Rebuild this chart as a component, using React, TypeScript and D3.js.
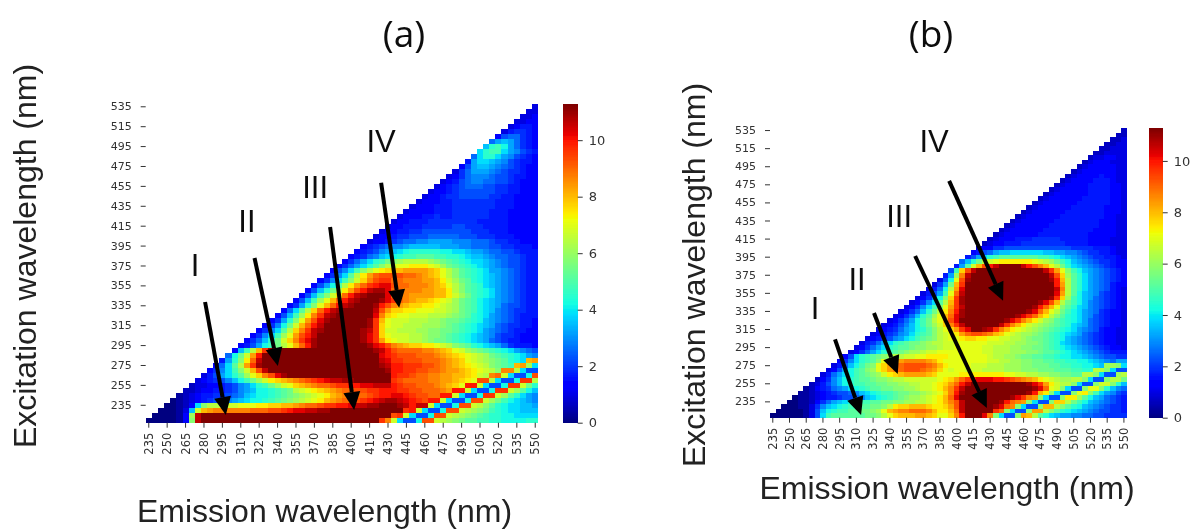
import React, { useEffect, useRef } from "react";
import * as d3 from "d3";

// Each row is one excitation wavelength, top row (535 nm) first. Rows are right
// aligned on 550 nm emission, one character per cell, base 36 level out of 35.
const valuesA = [
  "3", "33", "334", "3344", "34554", "356654", "4788654", "8aba8654",
  "b efda8654", "ce ffca9765", "8ce eca97654", "5acc ba976554", "47abb a9876544",
  "368aaa 98766544", "3468999 87765544", "34578998 87765444",
  "3 45678887 76655444", "34 45677777 76655444", "344 56677777 66554444",
  "3444 55666666 65554444", "34445 55666666 65554444", "344445 55666666 55544444",
  "3444556 55666666 55544444", "34455566 66666655 55544444",
  "3 44555666 66776665 55544444", "34 45566777 77777666 55544444",
  "344 56677788 88877766 65554444", "3445 678899aa aa999888 76655444",
  "45678 99abbbbb aaa99888 77665554", "45679a bcdeeeee ddccbaa9 88776555",
  "45689bc deffgggf feedcbba 98877655", "468acefh ijkkkkji hgfedccb a9877655",
  "4 68acegik lmmnnnml jhgfedcb a9877655", "47 9cfikmno ppqqqqpo mkigfedc aa987655",
  "469 cgknqstt ttssrqpo mkigfedc ba987655", "469c filortuu ssrrrqqp nljhgedc ba987655",
  "47adg knqsuvww tssrrrqp omkigfec ba987655", "47behk nqtvxyyw ssrrrqqp pnkigfed ca987655",
  "47bfilo svxyzzzw srrqqqqp pnljhfed ca987655", "47bfjmps vxyzzzyw usrqppon mljhgfdc ba987655",
  "4 6aeimpsv xyzzzyvt rqpoonnm lkjhgfdc ba877655", "48 cgkosvxy zzzzzxtq oonnmmml lkjhgfdc b9876655",
  "47b fjnruxyz zzzzzwro nmmlllkk kjihgedc a9876555", "46ae imqtwyzz zzzzyupm lllkkkjj ihhgfedb a9876554",
  "469dh lpsvxzzz zzzzyuom llkkkjjj ihgfedcb a8766554", "469cgk oruxyzzz zzzyxuol lkkkjjii hhgfedca 98765544",
  "469cfjm qtvxzzzz zzzywuom lllkkjii hgfedcba 97665444", "468behlo ruwyzzzz zzzywuqn mllkkjih hgfedcba 87655444",
  "4 57adfhkm psvyzzzz zzzzywvt rqpoonnm lkihgedc ba865554", "4b fkpuyzzz zzzzzzzz zzzzzyxv tssssrrq pomljihg fedca987",
  "8dh lqvzzzzz zzzzzzzz zzzzzzwv utttsssr qponmlkj hgfedca9", "5aei nsxzzzzz zzzzzzzz zzzzzzxw uutttsss rqpomlkj ihgedcpq",
  "48cgk quyzzzzz zzzzzzzz zzzzzzyx vvuuutts rqponmlk ihgfpqjc", "469cfi lptxzzzz zzzzzzzz zzzzzzzy vvuuttss rqqponml kirrkc77",
  "357aceg jmortwyz zzzzzzzz zzzzzzzz vuutssrr qqpponlk rslc77dt", "3456 79bd fhjlnopq rstuvwxx yyzzzzzz utssssrr qqponmtt kc77duuk",
  "2 33445679 acefhjlm opqrsstu uvvwwxxx vuttsssr qpomvvlc 77duulhe", "22 34455679 abddefgh klmnopqr ssttuuvv vuuttsss rqvvlc77 duuljgdb",
  "123 45566789 bcddefgh ijklmnpq rrsstuvv wwvuttss vvlc77du uljgeca9", "0123 456789ab cddefghi jklmnpqr sstuvwxy yxwvutvv lc77dttl jhfdcba9",
  "00124 cikklllm mmnnoopp qrsstuuv vwxxyyzz zyxvxxlc 77dttlki gedccbba", "00013b lpqrrrrr rsssttuv wwxxyyzz zzzzzzzz zzuvlc77 dttlkjih fedccbbb",
  "000014j xzzzzzzz zzzzzzzz zzzzzzzz zzzzzzzz tulc77dt tlkjihgf eeddcccc", "00000 14ixzzzzzzz zzzzzzzz zzzzzzzz zzzzzzur lc77dttl kjihggff eedddd ee",
];

const valuesB = [
  "2", "22", "223", "2233", "22333", "223333", "2334433", "23444333",
  "2 34444433", "23 44444433", "234 44454433", "2344 44555433", "23444 45555443",
  "234444 45555443", "2344444 45555443", "23444444 55555443",
  "2 34444445 55555443", "23 44444455 55554443", "234 44444555 55554443",
  "2344 44445555 55554433", "23444 44455555 55544433", "234444 44555555 55544433",
  "2344444 45555555 55444433", "23444444 55555555 54444433",
  "2 34445556 66665555 54444333", "23 44555666 66666555 54444333",
  "344 66777777 77777766 66555433", "4578 abbccccc cbbaa998 76655433",
  "57ace fggggggg ffedcba9 87665543", "8behkl mnnnnnnm lkjhfdba 98766544",
  "5aglptv xzzzzxvt rpmkhecb a9876544", "7fotxzzz zzzzzzzz zxuqmifd ba987654",
  "5 ajrxzzzz zzzzzzzz zzxtojge ca987654", "37 dmtyzzzz zzzzzzzz zzyvpkge ca987654",
  "36a hpuzzzzz zzzzzzzz zzzvqkge ca987544", "358d kqwzzzzz zzzzzzzz zzzxrkge ca987543",
  "357af msxzzzzz zzzzzzzz zzzwqkgd ba976543", "3469di ouyzzzzz zzzzzzzz zzyuojfd ba876543",
  "3469cgk puyzzzzz zzzzzzzz ywtpkhfd b9876543", "3469cfim quxzzzzz zzzzzzzy vspmigec b9876543",
  "3 468behkn rvyzzzzz zzzzzzyw spmkhfdc a9865443", "34 68begjmp swyzzzzz zzzzywus pnkigedc a9765443",
  "346 8adfhkmp twzzzzzz zzywurpn ljigfedc a8765443", "3457 9bdfhjlo ruxzzzzz zxurpnlk jihgfecb a8765443",
  "34568 abdegikm oquwzzyx urpnmlkj ihgfedca 98754433", "345679 acefgikl mnqsttsr pomlkjji hgfedcba 87654433",
  "345679a cdfghikl mmnoonnm mllkkjih hgfedba9 87654433", "3568acef ghhijkkl lmmmmmml llkkjjii hgfecba9 87654433",
  "3 468acefg ghiijjkl lmmmmmll kkkjjiih hgfedcba 98765443", "34 68acefgh ijjkllmm mmmmmmll kkkjjjii hggfedcb a9876555",
  "47c efghijkk llmmnnnn mmmmmmml kkjjihhg gffeddcc ba987766", "469c efgimopq rrrrqpnm mmmmmmml lkkjjiih hggffeed dcba98aa",
  "358bd fhimoqrs ttttsrpn mmmmlllk kkjjjiih hhggffee ddcbjjic", "347adf gijmoqrs tttsrqom lmmlllkk kkjjjiii hhhgggff eekkic77",
  "358acdf ghijlnop qqqqpomm mmnnnnnn nnmmllkk jjiihhgg kkic77jk", "2469bdef gghiijkk llllllmn oqsuvwww vvutsrqp nmlkjjkk ic77ikkh",
  "2 3579bdef fgghhiij jkkllmno qsvxzzzz zzzzzzyw uqnlkkic 77illieb", "12 45689acd efgghhii jjkllmnp ruxzzzzz zzzzzzzy wsmlic77 immieb98",
  "112 34567789 bcdeffgh hiijklmo rvyzzzzz zzzzzzyv pnic77im nifca976", "0112 34556778 9bcdefgh ijjklmnp swzzzzzz zzzywurq ic77innj gdba8765",
  "00112 468abcde ffgghhii jjkklmnp rtxzzzzz zyvsrqic 77iookhf dba98765", "000113 69bcdeff gghhikno oppponno qtxzzzzz ywsric77 ippkiged ba987665",
  "0000013 7bdeffgg hhijmpqr rsssrpnn psxzzzzz usic77iq qkigedcb a9877665", "00000013 7cfggggg ghhikmop ppqqpomm orvzzzwr ic77iqpk gecbaa99 88776666",
];

const emission = d3.range(235, 555, 5);
const excitation = d3.range(535, 215, -5);
const emissionTicks = d3.range(235, 555, 15);
const excitationTicks = d3.range(535, 215, -20);
const colorTicks = [0, 2, 4, 6, 8, 10];
const vmax = 11.27;

// [emission start, excitation start, emission tip, excitation tip]
const arrowsA = [
  [280.9, 338.8, 297.8, 225.2],
  [321.2, 383, 340.2, 274.5],
  [382.8, 414.2, 402.4, 230.3],
  [424.4, 458.7, 439.1, 333],
];
const arrowsB = [
  [290.8, 304.2, 314.2, 220.5],
  [325.8, 333.3, 347.1, 265.8],
  [362.7, 396.3, 427, 228.2],
  [393.2, 479.3, 441.6, 346.9],
];
const numerals = ["I", "II", "III", "IV"];
const numeralsAtA = [[272.7, 376], [315, 420], [370.6, 454.5], [424.4, 500.6]];
const numeralsAtB = [[272.9, 338.8], [310.6, 370.9], [348.3, 440.6], [379.7, 523.5]];

// matplotlib jet
const jetR = d3.scaleLinear([0, 0.35, 0.66, 0.89, 1], [0, 0, 255, 255, 128]).clamp(true);
const jetG = d3.scaleLinear([0, 0.125, 0.375, 0.64, 0.91, 1], [0, 0, 255, 255, 0, 0]).clamp(true);
const jetB = d3.scaleLinear([0, 0.11, 0.34, 0.65, 1], [128, 255, 255, 0, 0]).clamp(true);
const jet = (t: number) => `rgb(${jetR(t)},${jetG(t)},${jetB(t)})`;

const textColor = "#333";
const tickFont = "'DejaVu Sans', sans-serif";

function Panel({ rows, left, right, top, bottom, barLeft, barRight, arrows, numeralsAt }: any) {
  const xAxisRef = useRef<SVGGElement>(null);
  const yAxisRef = useRef<SVGGElement>(null);
  const colorAxisRef = useRef<SVGGElement>(null);

  const x = d3.scaleBand<number>().domain(emission).range([left, right]);
  const y = d3.scaleBand<number>().domain(excitation).range([top, bottom]);
  const color = d3.scaleLinear().domain([0, vmax]).range([bottom, top]);
  const emX = d3.scaleLinear().domain([235, 550]).range([x(235)! + x.bandwidth() / 2, x(550)! + x.bandwidth() / 2]);
  const exY = d3.scaleLinear().domain([220, 535]).range([y(220)! + y.bandwidth() / 2, y(535)! + y.bandwidth() / 2]);

  useEffect(() => {
    const style = (g: any) => {
      g.select(".domain").remove();
      g.selectAll("line").attr("stroke", textColor).attr("stroke-width", 1);
      g.selectAll("text").attr("font-family", tickFont).attr("font-size", 11).attr("fill", textColor);
    };
    d3.select(xAxisRef.current!)
      .call(d3.axisBottom(x).tickValues(emissionTicks).tickSize(5).tickPadding(4) as any)
      .call(style)
      .selectAll("text")
      .attr("transform", "rotate(-90)")
      .attr("text-anchor", "end")
      .attr("font-size", 11.5)
      .attr("x", -10)
      .attr("y", 0)
      .attr("dy", "0.35em");
    d3.select(yAxisRef.current!)
      .call(d3.axisLeft(y).tickValues(excitationTicks).tickSize(5).tickPadding(9) as any)
      .call(style);
    d3.select(colorAxisRef.current!)
      .call(d3.axisRight(color).tickValues(colorTicks).tickSize(5).tickPadding(6) as any)
      .call(style)
      .selectAll("text")
      .attr("font-size", 13);
  }, []);

  const cells = rows.flatMap((row: string, i: number) => {
    const chars = row.replace(/ /g, "");
    return Array.from(chars).map((ch, k) => ({
      em: emission[64 - chars.length + k],
      ex: excitation[i],
      value: (parseInt(ch, 36) / 35) * vmax,
    }));
  });

  const barSteps = d3.range(0, 256);

  return (
    <g>
      <g shapeRendering="crispEdges">
        {cells.map((d: any) => (
          <rect
            key={`${d.em}-${d.ex}`}
            x={x(d.em)}
            y={y(d.ex)}
            width={x.bandwidth()}
            height={y.bandwidth()}
            fill={jet(d.value / vmax)}
          />
        ))}
        {barSteps.map((s) => (
          <rect
            key={s}
            x={barLeft}
            y={color(((s + 1) / 256) * vmax)}
            width={barRight - barLeft}
            height={(bottom - top) / 256 + 0.5}
            fill={jet(s / 255)}
          />
        ))}
      </g>
      <g ref={xAxisRef} transform={`translate(0,${bottom})`} />
      <g ref={yAxisRef} transform={`translate(${left},0)`} />
      <g ref={colorAxisRef} transform={`translate(${barRight},0)`} />
      {arrows.map((a: number[], i: number) => {
        const [x0, y0, x1, y1] = [emX(a[0]), exY(a[1]), emX(a[2]), exY(a[3])];
        const angle = Math.atan2(y1 - y0, x1 - x0);
        const headLength = 18;
        const headHalf = 8.5;
        const bx = x1 - headLength * Math.cos(angle);
        const by = y1 - headLength * Math.sin(angle);
        const nx = -Math.sin(angle) * headHalf;
        const ny = Math.cos(angle) * headHalf;
        return (
          <g key={i}>
            <line x1={x0} y1={y0} x2={bx} y2={by} stroke="#000" strokeWidth={4} />
            <path d={`M${x1},${y1}L${bx + nx},${by + ny}L${bx - nx},${by - ny}Z`} fill="#000" />
          </g>
        );
      })}
      {numeralsAt.map((p: number[], i: number) => (
        <text
          key={i}
          x={emX(p[0])}
          y={exY(p[1])}
          dy="0.36em"
          textAnchor="middle"
          fontFamily="'Liberation Sans', sans-serif"
          fontSize={31}
          fill="#111"
        >
          {numerals[i]}
        </text>
      ))}
    </g>
  );
}

export default function App() {
  const axisFont = "'Liberation Sans', Arial, sans-serif";
  const titleFont = "'Open Sans', sans-serif";
  return (
    <svg width={1191} height={529} style={{ position: "absolute", left: 0, top: 0, background: "#fff" }}>
      <defs>
        <filter id="soft" x="0" y="0" width="1191" height="529" filterUnits="userSpaceOnUse" primitiveUnits="userSpaceOnUse">
          <feGaussianBlur stdDeviation="0.5" />
        </filter>
      </defs>
      <g filter="url(#soft)">
        <rect width={1191} height={529} fill="#fff" />
        <Panel
          rows={valuesA}
          left={145.7}
          right={538.3}
          top={104.3}
          bottom={422.7}
          barLeft={563.3}
          barRight={577.7}
          arrows={arrowsA}
          numeralsAt={numeralsAtA}
        />
        <Panel
          rows={valuesB}
          left={770}
          right={1126.7}
          top={128.3}
          bottom={417.7}
          barLeft={1149.3}
          barRight={1162.7}
          arrows={arrowsB}
          numeralsAt={numeralsAtB}
        />
        <text x={404} y={47} textAnchor="middle" fontFamily={titleFont} fontSize={37} fill="#111">(a)</text>
        <text x={931} y={47} textAnchor="middle" fontFamily={titleFont} fontSize={37} fill="#111">(b)</text>
        <text x={324.5} y={522} textAnchor="middle" fontFamily={axisFont} fontSize={32} fill="#222">Emission wavelength (nm)</text>
        <text x={947} y={499} textAnchor="middle" fontFamily={axisFont} fontSize={32} fill="#222">Emission wavelength (nm)</text>
        <text transform="translate(36,256) rotate(-90)" textAnchor="middle" fontFamily={axisFont} fontSize={32} fill="#222">Excitation wavelength (nm)</text>
        <text transform="translate(705,275) rotate(-90)" textAnchor="middle" fontFamily={axisFont} fontSize={32} fill="#222">Excitation wavelength (nm)</text>
      </g>
    </svg>
  );
}
